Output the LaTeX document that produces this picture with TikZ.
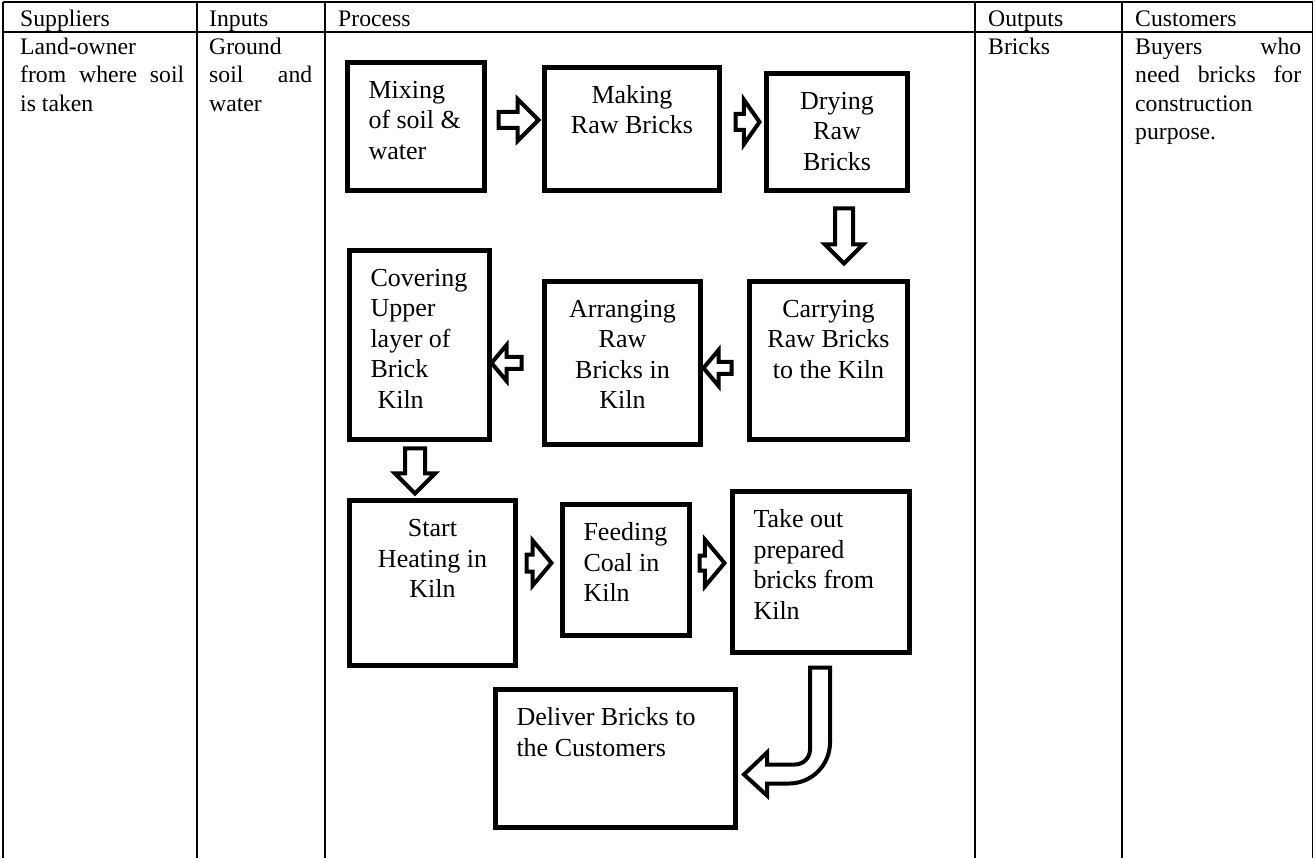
\documentclass[tikz,border=0pt]{standalone}
\usepackage{fontspec}
\setmainfont{Liberation Serif}
\usetikzlibrary{shapes.arrows,calc}

\newcommand{\boxfont}{\fontsize{26}{30.5}\selectfont}
\newcommand{\tabfont}{\fontsize{23.7}{28.5}\selectfont}

\tikzset{
  stepbox/.style n args={3}{draw, line width=5pt, inner sep=0pt, font=\boxfont,
    execute at begin node={\begin{minipage}[c][#2pt][t]{#1pt}#3\rule{0pt}{36pt}},
    execute at end node={\end{minipage}}},
  arrblk/.style={single arrow, draw, fill=white, line width=4pt, inner sep=0pt, minimum width=0pt, anchor=tail},
  harr/.style n args={4}{arrblk, inner ysep=#1pt, single arrow head extend=#2pt, single arrow tip angle=#3, minimum height=#4pt},
  varr/.style n args={4}{arrblk, inner sep=#1pt, single arrow head extend=#2pt, single arrow tip angle=#3, minimum height=#4pt, shape border rotate=270},
  hdr/.style={anchor=base west, inner sep=0pt, font=\tabfont},
  cell/.style={anchor=north west, inner sep=0pt, font=\tabfont, text width=#1pt, align=justify},
  tabrule/.style={line width=1.5pt},
}

\begin{document}
\begin{tikzpicture}[x=1pt, y=-1pt]
    \useasboundingbox (0,0) rectangle (1315,858);
    \fill[white] (0,0) rectangle (1315,858);

    % table
    \draw[tabrule] (3,2) -- (1312.5,2);
    \draw[tabrule] (3,32) -- (1312.5,32);
    \foreach \x in {3,197,325,975,1122,1312.5}
        \draw[tabrule] (\x,2) -- (\x,858);

    \node[hdr] (hsup) at (20,27) {Suppliers};
    \node[hdr] (hinp) at (209,27) {Inputs};
    \node[hdr] (hpro) at (338,27) {Process};
    \node[hdr] (hout) at (988,27) {Outputs};
    \node[hdr] (hcus) at (1135,27) {Customers};

    \node[cell=164] (csup) at (20,34) {\strut Land-owner\\ from where soil\linebreak is taken};
    \node[cell=103] (cinp) at (209,34) {\strut Ground\\ soil and\linebreak water};
    \node[cell=120] (cout) at (988,34) {\strut Bricks};
    \node[cell=166] (ccus) at (1135,34) {\strut Buyers who\linebreak need bricks for\linebreak construction\\ purpose.};

    % process boxes
    \node[stepbox={137}{128}{\raggedright\leftskip=21pt}] (mix) at (416,126.5) {Mixing\\of soil \&\\water};
    \node[stepbox={175}{123}{\centering}] (make) at (632,129) {Making\\Raw Bricks};
    \node[stepbox={141}{117}{\centering}] (dry) at (837,132) {Drying\\Raw\\Bricks};
    \node[stepbox={158}{158}{\centering}] (carry) at (828.5,360.5) {Carrying\\Raw Bricks\\to the Kiln};
    \node[stepbox={156}{163}{\centering}] (arrange) at (622.5,363) {Arranging\\Raw\\Bricks in\\Kiln};
    \node[stepbox={140}{189}{\raggedright\leftskip=21pt}] (cover) at (419.5,345) {Covering\\Upper\\layer of\\Brick\\\hspace*{7pt}Kiln};
    \node[stepbox={166}{165}{\centering}] (heat) at (432.5,583) {Start\\Heating in\\Kiln};
    \node[stepbox={127}{131}{\raggedright\leftskip=21pt}] (coal) at (626,570) {Feeding\\Coal in\\Kiln};
    \node[stepbox={177}{161}{\raggedright\leftskip=21pt}] (takeout) at (821,572) {Take out\\prepared\\bricks from\\Kiln};
    \node[stepbox={240}{138}{\raggedright\leftskip=21pt}] (deliver) at (615.5,758.5) {Deliver Bricks to\\the Customers};

    % block arrows
    \node[harr={6}{13}{90}{40}] (a1) at ($(mix.east)+(9.5,-6.5)$) {};
    \node[harr={6}{14.5}{110}{24}] (a2) at ($(make.east)+(11.5,-7)$) {};
    \node[varr={7}{10}{90}{55}] (a3) at ($(dry.south)+(7,13.5)$) {};
    \node[harr={4}{12}{100}{28}, shape border rotate=180] (a4) at ($(carry.west)+(-13.5,7.5)$) {};
    \node[harr={4}{12}{100}{30}, shape border rotate=180] (a5) at ($(arrange.west)+(-18.5,0)$) {};
    \node[varr={8}{10}{90}{45}] (a6) at ($(cover.south)+(-4.5,4.5)$) {};
    \node[harr={6.5}{14}{100}{25}] (a7) at ($(heat.east)+(6.5,-20)$) {};
    \node[harr={5.5}{16}{100}{25}] (a8) at ($(coal.east)+(5.5,-7)$) {};

    \begin{scope}[shift={(takeout.south)}]
        \draw[line width=4pt, fill=white]
            (-11,12.5) -- (9,12.5) -- (9,87.5) arc[start angle=0, end angle=90, radius=41]
            -- (-54,128.5) -- (-54,140.5) -- (-77,119.5) -- (-54,97.5) -- (-54,109.5)
            -- (-26,109.5) arc[start angle=90, end angle=0, radius=15] -- cycle;
    \end{scope}
\end{tikzpicture}
\end{document}
